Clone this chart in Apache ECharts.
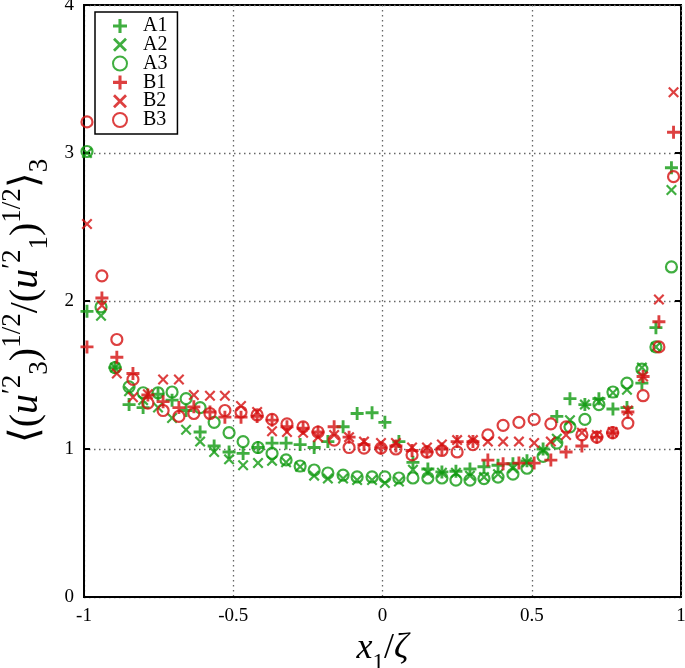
<!DOCTYPE html>
<html><head><meta charset="utf-8">
<script src="https://cdn.jsdelivr.net/npm/echarts@6/dist/echarts.min.js"></script>
<style>html,body{margin:0;padding:0;background:#fff}#c{width:685px;height:668px}</style>
</head><body><div id="c"></div>
<script>
var xA = [-0.99,-0.943,-0.896,-0.849,-0.802,-0.752,-0.705,-0.658,-0.611,-0.564,-0.514,-0.467,-0.417,-0.370,-0.323,-0.276,-0.229,-0.183,-0.132,-0.085,-0.035,0.008,0.055,0.102,0.152,0.199,0.246,0.293,0.340,0.387,0.437,0.484,0.538,0.584,0.628,0.678,0.725,0.772,0.819,0.869,0.916,0.968];
var yA1 = [1.93,null,1.55,1.30,1.28,1.37,1.33,1.26,1.115,1.02,0.98,0.97,1.01,1.04,1.04,1.03,1.01,1.05,1.15,1.24,1.245,1.18,1.05,0.91,0.865,0.845,0.85,0.865,0.88,0.89,0.90,0.92,1.0,1.22,1.34,1.30,1.34,1.27,1.28,1.445,1.82,2.9];
var yA2 = [3.0,1.9,1.55,1.39,1.33,1.28,1.21,1.13,1.05,0.98,0.93,0.89,0.905,0.92,0.91,0.88,0.82,0.80,0.80,0.79,0.79,0.77,0.78,0.86,0.84,0.84,0.84,0.82,0.81,0.83,0.87,0.91,0.99,1.07,1.195,1.30,1.32,1.38,1.40,1.55,1.69,2.75];
var yA3 = [3.01,1.96,1.55,1.42,1.38,1.38,1.385,1.34,1.28,1.18,1.11,1.05,1.01,0.97,0.926,0.885,0.858,0.838,0.824,0.811,0.811,0.811,0.804,0.804,0.804,0.804,0.79,0.79,0.80,0.81,0.83,0.87,0.95,1.04,1.15,1.20,1.30,1.385,1.445,1.54,1.69,2.23];
var xB = [-0.99,-0.94,-0.89,-0.836,-0.786,-0.735,-0.682,-0.632,-0.578,-0.528,-0.474,-0.42,-0.37,-0.32,-0.266,-0.216,-0.162,-0.112,-0.062,-0.005,0.045,0.099,0.149,0.199,0.25,0.303,0.353,0.404,0.457,0.508,0.564,0.615,0.668,0.718,0.771,0.822,0.873,0.926,0.975];
var yB1 = [1.69,2.02,1.62,1.51,1.365,1.32,1.28,1.285,1.25,1.215,1.215,1.22,1.195,1.15,1.14,1.115,1.15,1.08,1.03,1.006,1.02,0.99,0.98,1.0,1.05,1.05,0.925,0.9,0.905,0.905,0.925,0.98,1.02,1.08,1.11,1.25,1.49,1.86,3.14];
var yB2 = [2.52,1.97,1.51,1.35,1.37,1.47,1.47,1.365,1.36,1.36,1.29,1.25,1.12,1.115,1.11,1.08,1.095,1.08,1.05,1.04,1.04,1.01,1.01,1.03,1.06,1.06,1.05,1.05,1.05,1.04,1.05,1.095,1.11,1.095,1.115,1.26,1.49,2.01,3.41];
var yB3 = [3.21,2.17,1.74,1.47,1.31,1.26,1.22,1.24,1.24,1.26,1.25,1.23,1.20,1.17,1.15,1.115,1.06,1.01,1.006,1.006,1.0,0.96,0.98,0.99,0.98,1.03,1.095,1.16,1.18,1.20,1.17,1.15,1.095,1.08,1.11,1.175,1.36,1.69,2.84];
var seriesNames = ['A1','A2','A3','B1','B2','B3'];

var GREEN = '#109a10', RED = '#d41010';
var PLUS = 'path://M3.9,0H6.1V3.9H10V6.1H6.1V10H3.9V6.1H0V3.9H3.9Z';
var CROSS = 'path://M0,1.4L1.4,0L5,3.6L8.6,0L10,1.4L6.4,5L10,8.6L8.6,10L5,6.4L1.4,10L0,8.6L3.6,5Z';
function pairs(xs, ys){ var o=[]; for(var i=0;i<xs.length;i++){ if(ys[i]!=null) o.push([xs[i], ys[i]]); } return o; }
function mk(name, xs, ys, color, kind){
  var s = {name:name, type:'scatter', data:pairs(xs,ys), clip:false};
  if(kind==='plus'){ s.symbol=PLUS; s.symbolSize=13; s.itemStyle={color:color}; }
  else if(kind==='cross'){ s.symbol=CROSS; s.symbolSize=11; s.itemStyle={color:color}; }
  else { s.symbol='circle'; s.symbolSize=11; s.itemStyle={color:'rgba(0,0,0,0)', borderColor:color, borderWidth:2.2}; }
  return s;
}
var FONT = 'Liberation Serif';
var chart = echarts.init(document.getElementById('c'), null, {renderer:'canvas'});
chart.setOption({
  animation:false,
  backgroundColor:'#fff',
  grid:{left:84, right:4, top:5, bottom:71, show:true, borderColor:'#000', borderWidth:2, backgroundColor:'transparent', containLabel:false, outerBoundsMode:'none'},
  legend:{
    orient:'vertical', left:95, top:12, data:seriesNames,
    backgroundColor:'#fff', borderColor:'#000', borderWidth:1.5, borderRadius:0,
    padding:[4,10,4,17], itemWidth:14, itemHeight:14, itemGap:-1.2,
    textStyle:{fontFamily:FONT, fontSize:20, color:'#000', padding:[0,0,0,11]}
  },
  xAxis:{
    type:'value', min:-1, max:1, interval:0.5,
    axisLine:{show:true, onZero:false, lineStyle:{color:'#000', width:2}},
    axisTick:{show:false},
    axisLabel:{fontFamily:FONT, fontSize:19, color:'#000', margin:10},
    splitLine:{show:true, lineStyle:{color:'#666', width:1.3, type:[1.5,3.5]}},
    name:'{i|x}{s|1}{n|/}{i|ζ}', nameLocation:'middle', nameGap:26,
    nameTextStyle:{rich:{
      i:{fontFamily:FONT, fontStyle:'italic', fontSize:36, color:'#000', lineHeight:40, verticalAlign:'bottom'},
      s:{fontFamily:FONT, fontSize:23, color:'#000', lineHeight:40, verticalAlign:'bottom', padding:[0,0,-8,0]},
      n:{fontFamily:FONT, fontSize:36, color:'#000', lineHeight:40, verticalAlign:'bottom'}
    }}
  },
  yAxis:[{
    type:'value', min:0, max:4, interval:1,
    axisLine:{show:true, onZero:false, lineStyle:{color:'#000', width:2}},
    axisTick:{show:true, inside:true, length:6, lineStyle:{color:'#000', width:2}},
    axisLabel:{fontFamily:FONT, fontSize:19, color:'#000', margin:10},
    splitLine:{show:true, lineStyle:{color:'#666', width:1.3, type:[1.5,3.5]}},
    name:'{n|⟨(}{i|u}{p|′2}{b|3}{n|)}{p|1/2}{n|/(}{i|u}{p|′2}{b|1}{n|)}{p|1/2}{n|⟩}{b|3}',
    nameLocation:'middle', nameGap:20, nameRotate:90,
    nameTextStyle:{rich:{
      n:{fontFamily:FONT, fontSize:40, color:'#000', lineHeight:54},
      i:{fontFamily:FONT, fontStyle:'italic', fontSize:40, color:'#000', lineHeight:54},
      p:{fontFamily:FONT, fontSize:27, color:'#000', lineHeight:54, verticalAlign:'top'},
      b:{fontFamily:FONT, fontSize:27, color:'#000', lineHeight:54, verticalAlign:'bottom'}
    }}
  },{
    type:'value', min:0, max:4, interval:1, position:'right',
    axisLine:{show:false, onZero:false}, axisLabel:{show:false}, splitLine:{show:false},
    axisTick:{show:true, inside:true, length:6, lineStyle:{color:'#000', width:2}}
  }],
  series:[
    mk('A1', xA, yA1, GREEN, 'plus'),
    mk('A2', xA, yA2, GREEN, 'cross'),
    mk('A3', xA, yA3, GREEN, 'circle'),
    mk('B1', xB, yB1, RED, 'plus'),
    mk('B2', xB, yB2, RED, 'cross'),
    mk('B3', xB, yB3, RED, 'circle')
  ]
});
</script></body></html>
